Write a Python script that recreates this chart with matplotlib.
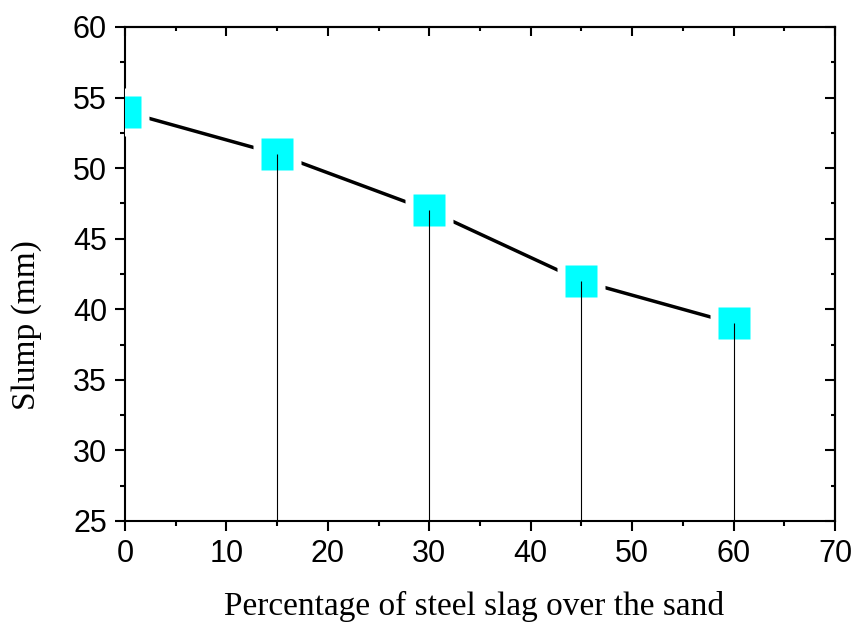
import matplotlib
matplotlib.use("Agg")
import matplotlib.pyplot as plt
from matplotlib.ticker import MultipleLocator

# data
steel_slag = [0, 15, 30, 45, 60]
slump = [54, 51, 47, 42, 39]

fig = plt.figure(figsize=(8.58, 6.22), dpi=100)
ax = fig.add_axes([0.1457, 0.1624, 0.8275, 0.7942])

# connecting line, gapped near the markers by a white square underneath
ax.plot(steel_slag, slump, color='black', lw=2.5, zorder=2)
ax.plot(steel_slag, slump, ls='none', marker='s', ms=35, mfc='white', mec='none', zorder=3)
ax.plot(steel_slag, slump, ls='none', marker='s', ms=23, mfc='cyan', mec='none', zorder=4)

# drop lines from each point down to the x axis
ax.vlines(steel_slag[1:], 25, slump[1:], color='black', lw=0.8, zorder=5)

ax.set_xlim(0, 70)
ax.set_ylim(25, 60)
ax.xaxis.set_major_locator(MultipleLocator(10))
ax.xaxis.set_minor_locator(MultipleLocator(5))
ax.yaxis.set_major_locator(MultipleLocator(5))
ax.yaxis.set_minor_locator(MultipleLocator(2.5))

for sp in ax.spines.values():
    sp.set_linewidth(1.5)

ax.tick_params(which='major', direction='out', length=7, width=1.5, labelsize=22, pad=6)
ax.tick_params(which='minor', direction='out', length=3.5, width=1.5)
for lab in ax.get_xticklabels() + ax.get_yticklabels():
    lab.set_fontfamily('Liberation Sans')

# top and right: inward ticks, no labels
top = ax.secondary_xaxis('top')
top.xaxis.set_major_locator(MultipleLocator(10))
top.xaxis.set_minor_locator(MultipleLocator(5))
top.tick_params(which='major', direction='in', length=6.5, width=1.5, labeltop=False)
top.tick_params(which='minor', direction='in', length=3, width=1.5)
right = ax.secondary_yaxis('right')
right.yaxis.set_major_locator(MultipleLocator(5))
right.yaxis.set_minor_locator(MultipleLocator(2.5))
right.tick_params(which='major', direction='in', length=7.5, width=1.5, labelright=False)
right.tick_params(which='minor', direction='in', length=3, width=1.5)
for s in (top, right):
    for sp in s.spines.values():
        sp.set_linewidth(1.5)

ax.set_xlabel('Percentage of steel slag over the sand', fontfamily='Liberation Serif', fontsize=24)
ax.set_ylabel('Slump (mm)', fontfamily='Liberation Serif', fontsize=24)
ax.xaxis.set_label_coords(0.4915, -0.142)
ax.yaxis.set_label_coords(-0.117, 0.397)

fig.savefig('out.png', dpi=100)
